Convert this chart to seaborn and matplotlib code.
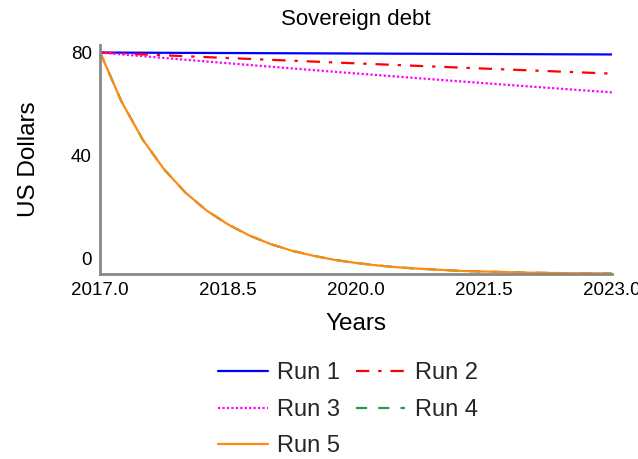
import pandas as pd
import seaborn as sns
import matplotlib.pyplot as plt
from matplotlib.transforms import ScaledTranslation

# Years sampled every quarter
years = [2017.0, 2017.25, 2017.5, 2017.75, 2018.0, 2018.25, 2018.5, 2018.75,
         2019.0, 2019.25, 2019.5, 2019.75, 2020.0, 2020.25, 2020.5, 2020.75,
         2021.0, 2021.25, 2021.5, 2021.75, 2022.0, 2022.25, 2022.5, 2022.75, 2023.0]

run1 = [80.00, 79.97, 79.94, 79.91, 79.88, 79.85, 79.83, 79.80, 79.77, 79.74,
        79.71, 79.68, 79.65, 79.62, 79.59, 79.57, 79.54, 79.51, 79.48, 79.45,
        79.42, 79.39, 79.36, 79.34, 79.31]
run2 = [80.00, 79.67, 79.34, 79.01, 78.68, 78.35, 78.02, 77.70, 77.38, 77.06,
        76.74, 76.42, 76.10, 75.78, 75.47, 75.15, 74.84, 74.53, 74.22, 73.91,
        73.60, 73.30, 72.99, 72.69, 72.39]
run3 = [80.00, 79.34, 78.69, 78.04, 77.40, 76.76, 76.13, 75.51, 74.89, 74.27,
        73.66, 73.05, 72.45, 71.86, 71.27, 70.68, 70.10, 69.52, 68.95, 68.39,
        67.82, 67.27, 66.71, 66.16, 65.62]
run4 = [80.0, 62.3, 48.5, 37.8, 29.4, 22.9, 17.9, 13.9, 10.8, 8.4, 6.6, 5.1,
        4.0, 3.1, 2.4, 1.9, 1.5, 1.1, 0.9, 0.7, 0.5, 0.4, 0.3, 0.3, 0.2]
run5 = [80.0, 62.3, 48.5, 37.8, 29.4, 22.9, 17.9, 13.9, 10.8, 8.4, 6.6, 5.1,
        4.0, 3.1, 2.4, 1.9, 1.5, 1.1, 0.9, 0.7, 0.5, 0.4, 0.3, 0.3, 0.2]

run_names = ['Run 1', 'Run 2', 'Run 3', 'Run 4', 'Run 5']
x_ticks = [2017.0, 2018.5, 2020.0, 2021.5, 2023.0]
y_ticks = [0, 40, 80]

sns.set_style('white')
plt.rcParams['font.family'] = ['Liberation Sans', 'DejaVu Sans']

styles = {
    'Run 1': dict(color='#0000ff', linestyle='-'),
    'Run 2': dict(color='#ff0000', linestyle=(0, (6, 4, 1.5, 4))),
    'Run 3': dict(color='#ff00ff', linestyle=(0, (1, 1))),
    'Run 4': dict(color='#1e9e4a', linestyle=(0, (5, 5))),
    'Run 5': dict(color='#ff8a12', linestyle='-'),
}

df = pd.DataFrame({'year': years, 'Run 1': run1, 'Run 2': run2,
                   'Run 3': run3, 'Run 4': run4, 'Run 5': run5})

fig = plt.figure(figsize=(6.38, 4.59), dpi=100)
ax = fig.add_axes([0.157, 0.403, 0.802, 0.500])

for name in run_names:
    sns.lineplot(data=df, x='year', y=name, ax=ax, label=name,
                 linewidth=1.6, legend=False, **styles[name])

ax.set_xlim(2017.0, 2023.0)
ax.set_ylim(0, 82.9)
ax.set_xticks(x_ticks)
ax.set_xticklabels([f'{t:.1f}' for t in x_ticks])
ax.set_yticks(y_ticks)
ax.tick_params(axis='both', length=0, labelsize=13.5, pad=6, labelcolor='black')
for side in ['top', 'right']:
    ax.spines[side].set_visible(False)
for side in ['left', 'bottom']:
    ax.spines[side].set_color('#888888')
    ax.spines[side].set_linewidth(2)

# the reference draws the lower y labels a little above their ticks
for lab, dy in zip(ax.get_yticklabels(), [16, 8, 0]):
    lab.set_transform(lab.get_transform() + ScaledTranslation(0, dy / 100, fig.dpi_scale_trans))

ax.set_title('Sovereign debt', fontsize=16, pad=14, color='black')
ax.set_xlabel('Years', fontsize=17.5, labelpad=10, color='black')
ax.set_ylabel('US Dollars', fontsize=17.5, labelpad=22, color='black')

# row-major order in a two-column legend: Run 1 | Run 2, Run 3 | Run 4, Run 5
handles, labels = ax.get_legend_handles_labels()
order = [0, 2, 4, 1, 3]
fig.legend([handles[i] for i in order], [labels[i] for i in order],
           loc='upper left', bbox_to_anchor=(0.316, 0.247),
           ncol=2, frameon=False, fontsize=17, handlelength=2.1,
           handletextpad=0.4, columnspacing=0.65, labelspacing=0.62,
           borderpad=0.2)

fig.savefig('out.png', dpi=100)
